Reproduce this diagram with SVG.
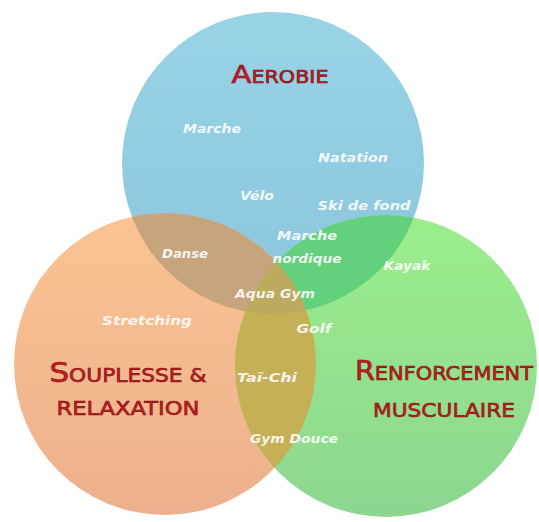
<svg xmlns="http://www.w3.org/2000/svg" width="539" height="522" viewBox="0 0 539 522">
<defs>
<style>
.lbl{font-family:"Comic Sans MS","DejaVu Sans",sans-serif;font-style:italic;font-weight:bold;font-size:13px;fill:#ffffff;fill-opacity:0.9;text-anchor:middle}
.ttl{font-family:"Comic Sans MS","DejaVu Sans",sans-serif;fill:#cc1a22;stroke:#7a1010;stroke-width:0.6;text-anchor:middle}
</style>
<linearGradient id="gBlue" x1="0" y1="0" x2="0" y2="1"><stop offset="0" stop-color="#98d3e6"/><stop offset="1" stop-color="#8bc5dd"/></linearGradient>
<linearGradient id="gOrange" x1="0" y1="0" x2="0" y2="1"><stop offset="0" stop-color="#fbc492"/><stop offset="1" stop-color="#ecb08c"/></linearGradient>
<linearGradient id="gGreen" x1="0" y1="0" x2="0" y2="1"><stop offset="0" stop-color="#9cee8c"/><stop offset="1" stop-color="#8cd690"/></linearGradient>
<clipPath id="cBlue"><circle cx="273" cy="163" r="151"/></clipPath>
<clipPath id="cOrange"><circle cx="165" cy="364" r="151"/></clipPath>
<clipPath id="cGreen"><circle cx="386" cy="366" r="151"/></clipPath>
</defs>
<rect width="539" height="522" fill="#ffffff"/>
<g id="aerobie"><circle cx="273" cy="163" r="151" fill="url(#gBlue)"/></g>
<g id="souplesse"><circle cx="165" cy="364" r="151" fill="url(#gOrange)"/></g>
<g id="renforcement"><circle cx="386" cy="366" r="151" fill="url(#gGreen)"/></g>
<g id="aerobie-souplesse" clip-path="url(#cBlue)"><circle cx="165" cy="364" r="151" fill="#c5a47e"/></g>
<g id="aerobie-renforcement" clip-path="url(#cBlue)"><circle cx="386" cy="366" r="151" fill="#62d07c"/></g>
<g id="souplesse-renforcement" clip-path="url(#cOrange)"><circle cx="386" cy="366" r="151" fill="#c6b056"/></g>
<g id="centre" clip-path="url(#cBlue)"><g clip-path="url(#cOrange)"><circle cx="386" cy="366" r="151" fill="#bcaa5e"/></g></g>
<g id="titles">
<text class="ttl" x="280" y="83" font-size="17" textLength="97" lengthAdjust="spacingAndGlyphs"><tspan font-size="24">A</tspan>EROBIE</text>
<text class="ttl" x="128" y="382" font-size="19" textLength="157" lengthAdjust="spacingAndGlyphs"><tspan font-size="27">S</tspan>OUPLESSE &amp;</text>
<text class="ttl" x="128" y="415" font-size="20" textLength="143" lengthAdjust="spacingAndGlyphs">RELAXATION</text>
<text class="ttl" x="444" y="380" font-size="19" textLength="178" lengthAdjust="spacingAndGlyphs"><tspan font-size="26">R</tspan>ENFORCEMENT</text>
<text class="ttl" x="444" y="417" font-size="20" textLength="142" lengthAdjust="spacingAndGlyphs">MUSCULAIRE</text>
</g>
<g id="activities">
<text class="lbl" x="212" y="133" textLength="58" lengthAdjust="spacingAndGlyphs">Marche</text>
<text class="lbl" x="353" y="162" textLength="70" lengthAdjust="spacingAndGlyphs">Natation</text>
<text class="lbl" x="257" y="200" textLength="34" lengthAdjust="spacingAndGlyphs">Vélo</text>
<text class="lbl" x="364" y="210" textLength="93" lengthAdjust="spacingAndGlyphs">Ski de fond</text>
<text class="lbl" x="307" y="240" textLength="60" lengthAdjust="spacingAndGlyphs">Marche</text>
<text class="lbl" x="307" y="263" textLength="69" lengthAdjust="spacingAndGlyphs">nordique</text>
<text class="lbl" x="185" y="258" textLength="46" lengthAdjust="spacingAndGlyphs">Danse</text>
<text class="lbl" x="407" y="270" textLength="47" lengthAdjust="spacingAndGlyphs">Kayak</text>
<text class="lbl" x="275" y="298" textLength="80" lengthAdjust="spacingAndGlyphs">Aqua Gym</text>
<text class="lbl" x="147" y="325" textLength="90" lengthAdjust="spacingAndGlyphs">Stretching</text>
<text class="lbl" x="314" y="333" textLength="35" lengthAdjust="spacingAndGlyphs">Golf</text>
<text class="lbl" x="267" y="382" textLength="60" lengthAdjust="spacingAndGlyphs">Taï-Chi</text>
<text class="lbl" x="294" y="443" textLength="88" lengthAdjust="spacingAndGlyphs">Gym Douce</text>
</g>
</svg>
